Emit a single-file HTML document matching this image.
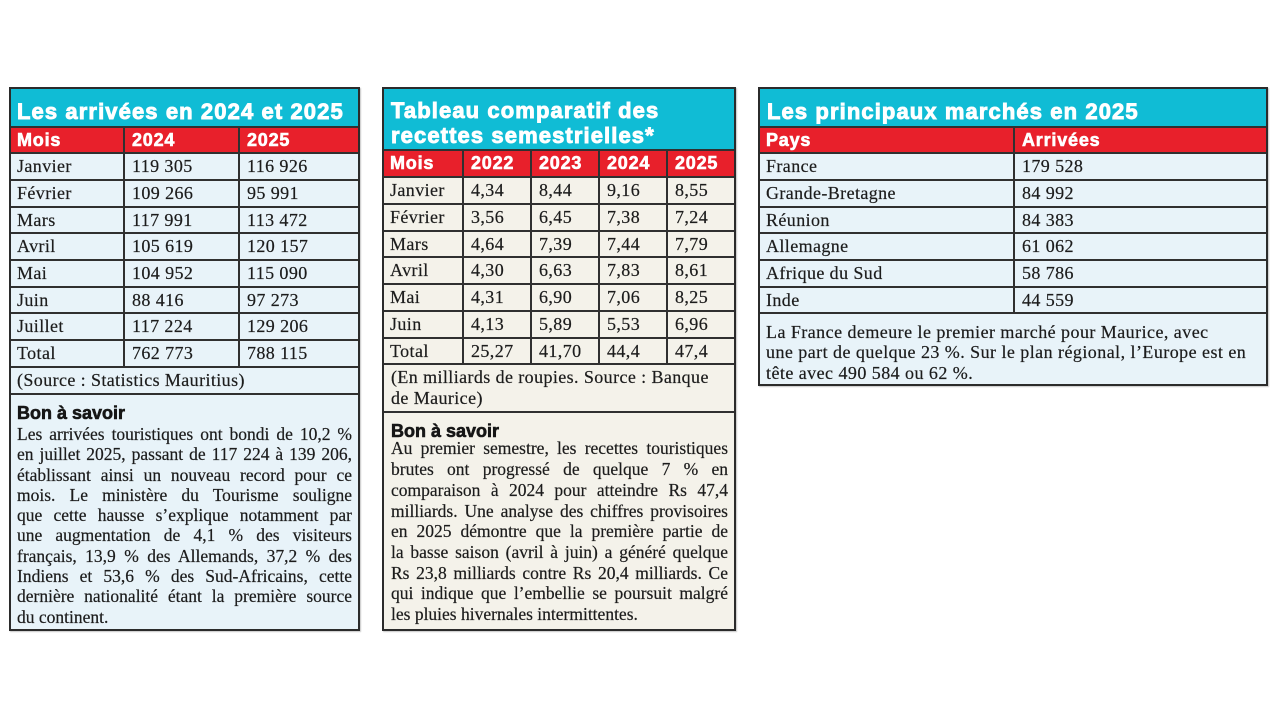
<!DOCTYPE html>
<html lang="fr">
<head>
<meta charset="utf-8">
<style>
html,body{margin:0;padding:0;background:#fff;}
body{width:1280px;height:720px;position:relative;overflow:hidden;}
.pn{position:absolute;border:2px solid #2b2b2b;box-sizing:border-box;overflow:hidden;box-shadow:1px 1px 1px #c8c8c8;}
.pn>*{position:absolute;}
.b1{background:#e8f3f9;}
.b2{background:#f4f2ea;}
.cy{left:0;right:0;background:#10bcd5;}
.rd{left:0;right:0;background:#e8202b;}
.hl{left:0;right:0;height:2px;background:#303030;}
.vl{width:2px;background:#303030;}
.t{font-family:"Liberation Sans",sans-serif;font-weight:bold;color:#fff;font-size:22px;letter-spacing:1.1px;line-height:25px;white-space:nowrap;-webkit-text-stroke:0.9px #fff;}
.r{left:0;right:0;}
.r span{position:absolute;top:0;white-space:nowrap;}
.hd{font-family:"Liberation Sans",sans-serif;font-weight:bold;color:#fff;font-size:18px;letter-spacing:0.8px;-webkit-text-stroke:0.6px #fff;}
.c{font-family:"Liberation Serif",serif;font-size:18px;letter-spacing:0.4px;color:#1c1c1c;-webkit-text-stroke:0.2px #1c1c1c;}
.bs{font-family:"Liberation Sans",sans-serif;font-weight:bold;color:#161616;font-size:18px;line-height:20px;white-space:nowrap;-webkit-text-stroke:0.6px #161616;}
.bd{font-family:"Liberation Serif",serif;font-size:17.5px;color:#1c1c1c;-webkit-text-stroke:0.2px #1c1c1c;}
.bd div{text-align:justify;text-align-last:justify;}
.bd div.l{text-align:left;text-align-last:left;}
.nt{font-family:"Liberation Serif",serif;font-size:18px;letter-spacing:0.45px;color:#1c1c1c;line-height:20.5px;white-space:nowrap;-webkit-text-stroke:0.2px #1c1c1c;}
</style>
</head>
<body>

<!-- PANEL 1 -->
<div class="pn b1" style="left:9px;top:87px;width:351px;height:544px;">
  <div class="cy" style="top:0;height:37px;"></div>
  <div class="t" style="left:6px;top:10px;">Les arrivées en 2024 et 2025</div>
  <div class="hl" style="top:37px;"></div>
  <div class="rd" style="top:39px;height:24px;"></div>
  <div class="r hd" style="top:39px;height:24px;line-height:24px;"><span style="left:6px">Mois</span><span style="left:121px">2024</span><span style="left:236px">2025</span></div>
  <div class="hl" style="top:63px;"></div>
  <div class="r c" style="top:65px;height:25px;line-height:25px;"><span style="left:6px">Janvier</span><span style="left:121px">119 305</span><span style="left:236px">116 926</span></div>
  <div class="hl" style="top:90px;"></div>
  <div class="r c" style="top:92px;height:25px;line-height:25px;"><span style="left:6px">Février</span><span style="left:121px">109 266</span><span style="left:236px">95 991</span></div>
  <div class="hl" style="top:117px;"></div>
  <div class="r c" style="top:119px;height:24px;line-height:24px;"><span style="left:6px">Mars</span><span style="left:121px">117 991</span><span style="left:236px">113 472</span></div>
  <div class="hl" style="top:143px;"></div>
  <div class="r c" style="top:145px;height:25px;line-height:25px;"><span style="left:6px">Avril</span><span style="left:121px">105 619</span><span style="left:236px">120 157</span></div>
  <div class="hl" style="top:170px;"></div>
  <div class="r c" style="top:172px;height:25px;line-height:25px;"><span style="left:6px">Mai</span><span style="left:121px">104 952</span><span style="left:236px">115 090</span></div>
  <div class="hl" style="top:197px;"></div>
  <div class="r c" style="top:199px;height:24px;line-height:24px;"><span style="left:6px">Juin</span><span style="left:121px">88 416</span><span style="left:236px">97 273</span></div>
  <div class="hl" style="top:223px;"></div>
  <div class="r c" style="top:225px;height:25px;line-height:25px;"><span style="left:6px">Juillet</span><span style="left:121px">117 224</span><span style="left:236px">129 206</span></div>
  <div class="hl" style="top:250px;"></div>
  <div class="r c" style="top:252px;height:25px;line-height:25px;"><span style="left:6px">Total</span><span style="left:121px">762 773</span><span style="left:236px">788 115</span></div>
  <div class="hl" style="top:277px;"></div>
  <div class="r c" style="top:279px;height:25px;line-height:25px;"><span style="left:6px">(Source : Statistics Mauritius)</span></div>
  <div class="hl" style="top:304px;"></div>
  <div class="vl" style="left:112px;top:37px;height:242px;"></div>
  <div class="vl" style="left:227px;top:37px;height:242px;"></div>
  <div class="bs" style="left:6px;top:314px;">Bon à savoir</div>
  <div class="bd" style="left:6px;top:335px;width:335px;line-height:20.3px;">
    <div>Les arrivées touristiques ont bondi de 10,2 %</div>
    <div>en juillet 2025, passant de 117 224 à 139 206,</div>
    <div>établissant ainsi un nouveau record pour ce</div>
    <div>mois. Le ministère du Tourisme souligne</div>
    <div>que cette hausse s’explique notamment par</div>
    <div>une augmentation de 4,1 % des visiteurs</div>
    <div>français, 13,9 % des Allemands, 37,2 % des</div>
    <div>Indiens et 53,6 % des Sud-Africains, cette</div>
    <div>dernière nationalité étant la première source</div>
    <div class="l">du continent.</div>
  </div>
</div>

<!-- PANEL 2 -->
<div class="pn b2" style="left:382px;top:87px;width:354px;height:544px;">
  <div class="cy" style="top:0;height:60px;"></div>
  <div class="t" style="left:7px;top:9px;">Tableau comparatif des<br>recettes semestrielles*</div>
  <div class="hl" style="top:60px;"></div>
  <div class="rd" style="top:62px;height:25px;"></div>
  <div class="r hd" style="top:62px;height:25px;line-height:25px;"><span style="left:6px">Mois</span><span style="left:87px">2022</span><span style="left:155px">2023</span><span style="left:223px">2024</span><span style="left:291px">2025</span></div>
  <div class="hl" style="top:87px;"></div>
  <div class="r c" style="top:89px;height:25px;line-height:25px;"><span style="left:6px">Janvier</span><span style="left:87px">4,34</span><span style="left:155px">8,44</span><span style="left:223px">9,16</span><span style="left:291px">8,55</span></div>
  <div class="hl" style="top:114px;"></div>
  <div class="r c" style="top:116px;height:25px;line-height:25px;"><span style="left:6px">Février</span><span style="left:87px">3,56</span><span style="left:155px">6,45</span><span style="left:223px">7,38</span><span style="left:291px">7,24</span></div>
  <div class="hl" style="top:141px;"></div>
  <div class="r c" style="top:143px;height:24px;line-height:24px;"><span style="left:6px">Mars</span><span style="left:87px">4,64</span><span style="left:155px">7,39</span><span style="left:223px">7,44</span><span style="left:291px">7,79</span></div>
  <div class="hl" style="top:167px;"></div>
  <div class="r c" style="top:169px;height:25px;line-height:25px;"><span style="left:6px">Avril</span><span style="left:87px">4,30</span><span style="left:155px">6,63</span><span style="left:223px">7,83</span><span style="left:291px">8,61</span></div>
  <div class="hl" style="top:194px;"></div>
  <div class="r c" style="top:196px;height:25px;line-height:25px;"><span style="left:6px">Mai</span><span style="left:87px">4,31</span><span style="left:155px">6,90</span><span style="left:223px">7,06</span><span style="left:291px">8,25</span></div>
  <div class="hl" style="top:221px;"></div>
  <div class="r c" style="top:223px;height:25px;line-height:25px;"><span style="left:6px">Juin</span><span style="left:87px">4,13</span><span style="left:155px">5,89</span><span style="left:223px">5,53</span><span style="left:291px">6,96</span></div>
  <div class="hl" style="top:248px;"></div>
  <div class="r c" style="top:250px;height:24px;line-height:24px;"><span style="left:6px">Total</span><span style="left:87px">25,27</span><span style="left:155px">41,70</span><span style="left:223px">44,4</span><span style="left:291px">47,4</span></div>
  <div class="hl" style="top:274px;"></div>
  <div class="c" style="left:7px;top:277.6px;line-height:21px;white-space:nowrap;">(En milliards de roupies. Source : Banque<br>de Maurice)</div>
  <div class="hl" style="top:322px;"></div>
  <div class="vl" style="left:78px;top:60px;height:214px;"></div>
  <div class="vl" style="left:146px;top:60px;height:214px;"></div>
  <div class="vl" style="left:214px;top:60px;height:214px;"></div>
  <div class="vl" style="left:282px;top:60px;height:214px;"></div>
  <div class="bs" style="left:7px;top:331.7px;">Bon à savoir</div>
  <div class="bd" style="left:7px;top:349.4px;width:337px;line-height:20.7px;">
    <div>Au premier semestre, les recettes touristiques</div>
    <div>brutes ont progressé de quelque 7 % en</div>
    <div>comparaison à 2024 pour atteindre Rs 47,4</div>
    <div>milliards. Une analyse des chiffres provisoires</div>
    <div>en 2025 démontre que la première partie de</div>
    <div>la basse saison (avril à juin) a généré quelque</div>
    <div>Rs 23,8 milliards contre Rs 20,4 milliards. Ce</div>
    <div>qui indique que l’embellie se poursuit malgré</div>
    <div class="l">les pluies hivernales intermittentes.</div>
  </div>
</div>

<!-- PANEL 3 -->
<div class="pn b1" style="left:758px;top:87px;width:510px;height:299px;">
  <div class="cy" style="top:0;height:37px;"></div>
  <div class="t" style="left:7px;top:10px;">Les principaux marchés en 2025</div>
  <div class="hl" style="top:37px;"></div>
  <div class="rd" style="top:39px;height:24px;"></div>
  <div class="r hd" style="top:39px;height:24px;line-height:24px;"><span style="left:6px">Pays</span><span style="left:262px">Arrivées</span></div>
  <div class="hl" style="top:63px;"></div>
  <div class="r c" style="top:65px;height:25px;line-height:25px;"><span style="left:6px">France</span><span style="left:262px">179 528</span></div>
  <div class="hl" style="top:90px;"></div>
  <div class="r c" style="top:92px;height:25px;line-height:25px;"><span style="left:6px">Grande-Bretagne</span><span style="left:262px">84 992</span></div>
  <div class="hl" style="top:117px;"></div>
  <div class="r c" style="top:119px;height:24px;line-height:24px;"><span style="left:6px">Réunion</span><span style="left:262px">84 383</span></div>
  <div class="hl" style="top:143px;"></div>
  <div class="r c" style="top:145px;height:25px;line-height:25px;"><span style="left:6px">Allemagne</span><span style="left:262px">61 062</span></div>
  <div class="hl" style="top:170px;"></div>
  <div class="r c" style="top:172px;height:25px;line-height:25px;"><span style="left:6px">Afrique du Sud</span><span style="left:262px">58 786</span></div>
  <div class="hl" style="top:197px;"></div>
  <div class="r c" style="top:199px;height:24px;line-height:24px;"><span style="left:6px">Inde</span><span style="left:262px">44 559</span></div>
  <div class="hl" style="top:223px;"></div>
  <div class="vl" style="left:253px;top:37px;height:186px;"></div>
  <div class="nt" style="left:6px;top:232.9px;">La France demeure le premier marché pour Maurice, avec<br>une part de quelque 23 %. Sur le plan régional, l’Europe est en<br>tête avec 490 584 ou 62 %.</div>
</div>

</body>
</html>
